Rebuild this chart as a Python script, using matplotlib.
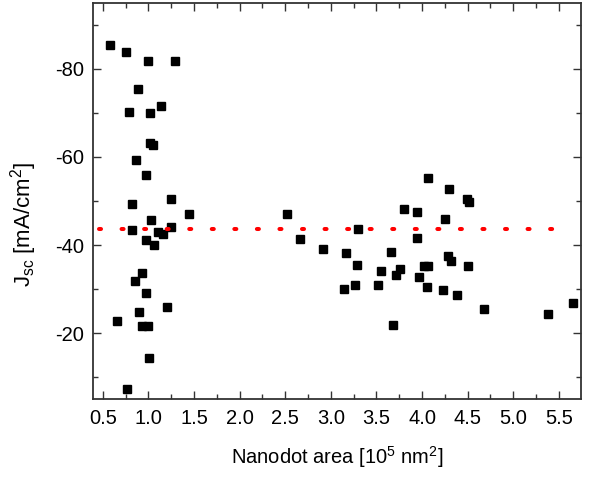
import matplotlib
matplotlib.use("Agg")
import matplotlib.pyplot as plt
from matplotlib.ticker import MultipleLocator, FormatStrFormatter

plt.rcParams['font.family'] = ['Liberation Sans', 'DejaVu Sans']
plt.rcParams['mathtext.fontset'] = 'custom'
plt.rcParams['mathtext.rm'] = 'Liberation Sans'
plt.rcParams['axes.unicode_minus'] = False

# nanodot area [1e5 nm^2] and short-circuit current density [mA/cm^2]
area = [0.58, 0.75, 1.00, 1.29, 0.88, 0.79, 1.02, 1.14, 1.02, 1.05,
        0.86, 0.97, 1.25, 0.82, 1.45, 1.03, 0.82, 1.25, 1.10, 1.16,
        0.97, 1.06, 0.93, 0.85, 0.97, 1.20, 0.90, 0.66, 0.93, 1.00,
        1.01, 0.76,
        2.52, 3.30, 2.66, 2.91, 3.17, 3.29, 3.14, 3.26, 3.52, 3.55,
        3.66, 3.68, 3.76, 3.71, 3.80, 3.95, 3.95, 3.97, 4.02, 4.07,
        4.05, 4.06, 4.30, 4.25, 4.49, 4.51, 4.29, 4.32, 4.50, 4.23,
        4.38, 4.68, 5.38, 5.65]
jsc = [-85.5, -83.8, -81.7, -81.9, -75.5, -70.2, -70.0, -71.6, -63.1, -62.7,
       -59.3, -55.8, -50.4, -49.4, -47.0, -45.7, -43.3, -44.2, -43.0, -42.6,
       -41.2, -40.0, -33.6, -31.9, -29.2, -26.0, -24.9, -22.8, -21.6, -21.6,
       -14.4, -7.2,
       -47.1, -43.7, -41.3, -39.2, -38.2, -35.4, -30.1, -30.9, -30.9, -34.0,
       -38.5, -21.8, -34.6, -33.1, -48.2, -47.4, -41.6, -32.8, -35.2, -35.2,
       -30.5, -55.2, -52.7, -46.0, -50.4, -49.7, -37.6, -36.4, -35.2, -29.7,
       -28.6, -25.4, -24.3, -26.8]
mean_jsc = -43.6

fig = plt.figure(figsize=(5.95, 4.78), dpi=100)
ax = fig.add_axes([0.156, 0.165, 0.820, 0.829])

ax.plot(area, jsc, 's', color='black', markersize=5.2, linestyle='none')
ax.axhline(mean_jsc, xmin=0.012, xmax=0.98, color='red', lw=2.9,
           linestyle=(0, (0.5, 5.1)), dash_capstyle='round')

ax.set_xlim(0.39, 5.74)
ax.set_ylim(-5, -95)
ax.xaxis.set_major_locator(MultipleLocator(0.5))
ax.xaxis.set_minor_locator(MultipleLocator(0.25))
ax.yaxis.set_major_locator(MultipleLocator(20))
ax.yaxis.set_minor_locator(MultipleLocator(10))
ax.xaxis.set_major_formatter(FormatStrFormatter('%.1f'))
ax.yaxis.set_major_formatter(FormatStrFormatter('%d'))

ax.tick_params(which='both', direction='in', top=True, right=True,
               labelsize=14.5, color='#333333', width=1.0)
ax.tick_params(which='major', length=6)
ax.tick_params(which='minor', length=3.5)
ax.tick_params(axis='x', which='major', pad=7)
ax.tick_params(axis='y', which='major', pad=6)
for s in ax.spines.values():
    s.set_linewidth(1.3)
    s.set_color('#333333')

ax.set_xlabel(r'Nanodot area [10$^{\mathregular{5}}$ nm$^{\mathregular{2}}$]',
              fontsize=14.5, labelpad=12)
ax.set_ylabel(r'J$_{\mathregular{sc}}$ [mA/cm$^{\mathregular{2}}$]',
              fontsize=16)
ax.yaxis.set_label_coords(-0.11, 0.44)

fig.savefig('out.png', dpi=100)
